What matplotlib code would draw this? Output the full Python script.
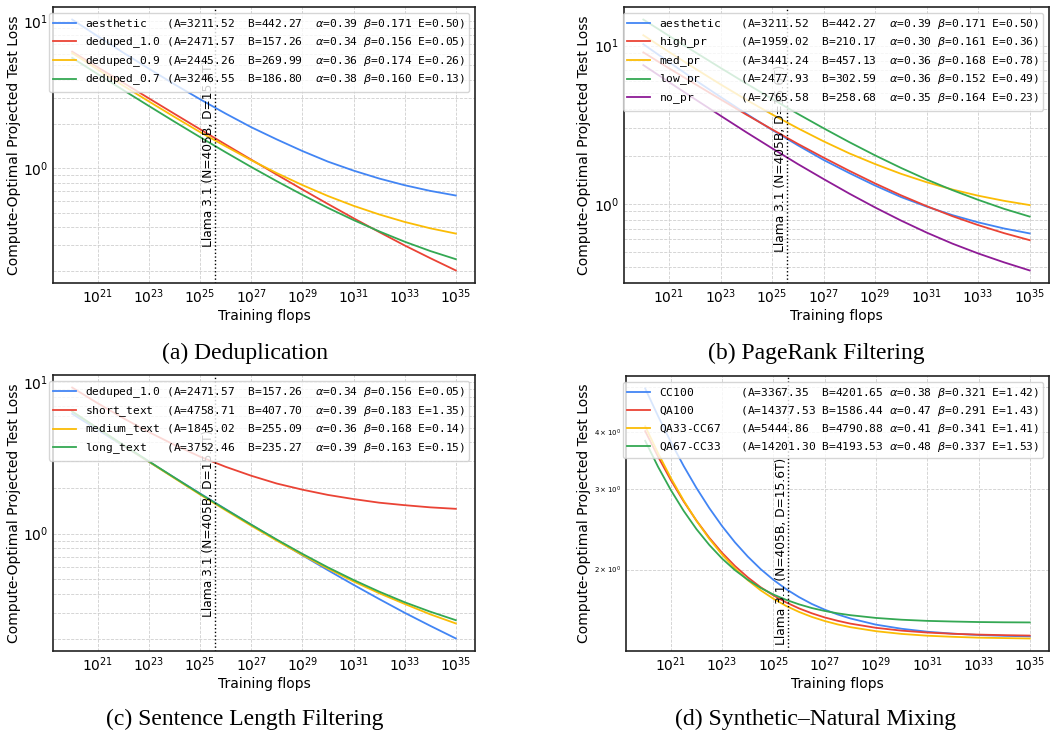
import matplotlib
matplotlib.use("Agg")
import matplotlib.pyplot as plt
from matplotlib.ticker import NullLocator, FixedLocator

# ---------------- data ----------------
flops_exp = [20, 21, 22, 23, 24, 25, 26, 27, 28, 29, 30, 31, 32, 33, 34, 35]
flops_exp_d = [20, 20.5, 21, 21.5, 22, 22.5, 23, 23.5, 24, 24.5, 25, 25.5,
               26, 26.5, 27, 27.5, 28, 29, 30, 31, 32, 33, 34, 35]
llama_flops_exp = 25.58
xtick_exps = [21, 23, 25, 27, 29, 31, 33, 35]

# (a) Deduplication
a_names = ["aesthetic", "deduped_1.0", "deduped_0.9", "deduped_0.7"]
a_A = [3211.52, 2471.57, 2445.26, 3246.55]
a_B = [442.27, 157.26, 269.99, 186.80]
a_alpha = [0.39, 0.34, 0.36, 0.38]
a_beta = [0.171, 0.156, 0.174, 0.160]
a_E = [0.50, 0.05, 0.26, 0.13]
aesthetic = [10.2, 7.86, 6.08, 4.74, 3.71, 2.94, 2.35, 1.90, 1.57, 1.31, 1.11, 0.965, 0.853, 0.768, 0.703, 0.654]
deduped_10 = [6.18, 4.84, 3.80, 2.98, 2.34, 1.84, 1.45, 1.145, 0.906, 0.719, 0.573, 0.459, 0.370, 0.300, 0.246, 0.203]
deduped_09 = [6.05, 4.68, 3.63, 2.84, 2.23, 1.76, 1.41, 1.135, 0.928, 0.770, 0.649, 0.557, 0.487, 0.433, 0.392, 0.361]
deduped_07 = [5.61, 4.35, 3.39, 2.645, 2.07, 1.627, 1.285, 1.021, 0.818, 0.661, 0.539, 0.446, 0.374, 0.318, 0.275, 0.242]

# (b) PageRank Filtering
b_names = ["aesthetic", "high_pr", "med_pr", "low_pr", "no_pr"]
b_A = [3211.52, 1959.02, 3441.24, 2477.93, 2765.58]
b_B = [442.27, 210.17, 457.13, 302.59, 258.68]
b_alpha = [0.39, 0.30, 0.36, 0.36, 0.35]
b_beta = [0.171, 0.161, 0.168, 0.152, 0.164]
b_E = [0.50, 0.36, 0.78, 0.49, 0.23]
high_pr = [9.06, 7.19, 5.73, 4.58, 3.67, 2.96, 2.40, 1.965, 1.622, 1.351, 1.138, 0.972, 0.840, 0.738, 0.657, 0.593]
med_pr = [11.62, 9.11, 7.18, 5.69, 4.55, 3.68, 3.01, 2.49, 2.09, 1.79, 1.555, 1.375, 1.237, 1.131, 1.05, 0.987]
low_pr = [14.59, 11.51, 9.11, 7.23, 5.76, 4.61, 3.71, 3.01, 2.46, 2.03, 1.694, 1.431, 1.226, 1.065, 0.935, 0.835]
no_pr = [7.53, 5.88, 4.60, 3.61, 2.84, 2.25, 1.79, 1.44, 1.165, 0.953, 0.789, 0.662, 0.564, 0.489, 0.430, 0.382]

# (c) Sentence Length Filtering
c_names = ["deduped_1.0", "short_text", "medium_text", "long_text"]
c_A = [2471.57, 4758.71, 1845.02, 3752.46]
c_B = [157.26, 407.70, 255.09, 235.27]
c_alpha = [0.34, 0.39, 0.36, 0.39]
c_beta = [0.156, 0.183, 0.168, 0.163]
c_E = [0.05, 1.35, 0.14, 0.15]
short_text = [9.21, 7.25, 5.78, 4.68, 3.85, 3.22, 2.76, 2.41, 2.14, 1.95, 1.80, 1.69, 1.60, 1.54, 1.49, 1.457]
medium_text = [6.40, 4.95, 3.83, 2.98, 2.32, 1.81, 1.425, 1.127, 0.898, 0.722, 0.587, 0.483, 0.404, 0.343, 0.293, 0.255]
long_text = [6.40, 4.96, 3.85, 3.00, 2.34, 1.83, 1.445, 1.145, 0.913, 0.735, 0.598, 0.494, 0.414, 0.352, 0.305, 0.268]

# (d) Synthetic-Natural Mixing
d_names = ["CC100", "QA100", "QA33-CC67", "QA67-CC33"]
d_A = [3367.35, 14377.53, 5444.86, 14201.30]
d_B = [4201.65, 1586.44, 4790.88, 4193.53]
d_alpha = [0.38, 0.47, 0.41, 0.48]
d_beta = [0.321, 0.291, 0.341, 0.337]
d_E = [1.42, 1.43, 1.41, 1.53]
cc100 = [4.97, 4.326, 3.798, 3.366, 3.013, 2.724, 2.487, 2.293, 2.135, 2.005, 1.899, 1.812,
         1.741, 1.682, 1.635, 1.596, 1.564, 1.516, 1.485, 1.463, 1.449, 1.439, 1.433, 1.429]
qa100 = [4.01, 3.528, 3.135, 2.817, 2.557, 2.346, 2.175, 2.036, 1.923, 1.830, 1.756, 1.695,
         1.645, 1.605, 1.572, 1.546, 1.524, 1.492, 1.471, 1.457, 1.448, 1.442, 1.438, 1.435]
qa33_cc67 = [4.11, 3.589, 3.169, 2.829, 2.555, 2.334, 2.156, 2.012, 1.896, 1.802, 1.727, 1.665,
             1.616, 1.576, 1.544, 1.518, 1.497, 1.467, 1.447, 1.434, 1.426, 1.420, 1.417, 1.414]
qa67_cc33 = [3.82, 3.353, 2.982, 2.686, 2.450, 2.263, 2.113, 1.994, 1.900, 1.824, 1.764, 1.717,
             1.679, 1.648, 1.624, 1.605, 1.590, 1.568, 1.554, 1.545, 1.540, 1.536, 1.534, 1.533]

captions = ["(a) Deduplication", "(b) PageRank Filtering",
            "(c) Sentence Length Filtering", "(d) Synthetic\u2013Natural Mixing"]

# ---------------- styling ----------------
BLUE, RED, YELLOW, GREEN, PURPLE = "#4285F4", "#EA4335", "#FBBC05", "#34A853", "#8E1B96"

plt.rcParams["font.family"] = ["DejaVu Sans"]
plt.rcParams["mathtext.fontset"] = "dejavusans"

fig = plt.figure(figsize=(10.51, 7.31), dpi=100)
W, H = 1051.0, 731.0


def make_axes(left, top, right, bottom):
    return fig.add_axes([left / W, 1 - bottom / H, (right - left) / W, (bottom - top) / H])


def label(name, A, B, a, b, e):
    a_s = f"{A:.2f}"
    b_s = f"{B:.2f}"
    return (f"{name:<11} (A={a_s:<8} B={b_s:<7} "
            f"$\\alpha$={a:.2f} $\\beta$={b:.3f} E={e:.2f})")


def setup(ax, xs, series, colors, names, A, B, al, be, E, text_y, ylab_x, minor_labels=False):
    fx = [10.0 ** v for v in xs]
    for ys, col, n, a_, b_, al_, be_, e_ in zip(series, colors, names, A, B, al, be, E):
        ax.plot(fx, ys, color=col, lw=1.3, label=label(n, a_, b_, al_, be_, e_))
    ax.set_xscale("log")
    ax.set_yscale("log")
    ax.xaxis.set_major_locator(FixedLocator([10.0 ** v for v in xtick_exps]))
    ax.xaxis.set_minor_locator(NullLocator())
    xl = 10.0 ** llama_flops_exp
    ax.axvline(xl, color="black", ls=":", lw=1.0)
    ax.text(xl, text_y, "Llama 3.1 (N=405B, D=15.6T)", rotation=90, ha="right",
            va="bottom", fontsize=8.8, transform=ax.get_xaxis_transform())
    ax.grid(True, which="both", ls="--", lw=0.6, color="#cfcfcf")
    ax.set_axisbelow(True)
    ax.tick_params(axis="both", which="both", length=0)
    ax.tick_params(axis="both", which="major", labelsize=10)
    ax.set_xlabel("Training flops", fontsize=10, labelpad=2)
    ax.set_ylabel("Compute-Optimal Projected Test Loss", fontsize=10)
    ax.yaxis.set_label_coords(ylab_x, 0.5)
    if minor_labels:
        ax.tick_params(axis="y", which="minor", labelsize=5)
    for s in ax.spines.values():
        s.set_color("#222222")
        s.set_linewidth(1.2)
    ax.legend(loc="upper right", prop={"family": "DejaVu Sans Mono", "size": 8.1},
              borderaxespad=0.5, handlelength=2.0, framealpha=0.8, labelspacing=0.35)
    return ax


ax_a = make_axes(53, 7, 475, 283)
setup(ax_a, flops_exp, [aesthetic, deduped_10, deduped_09, deduped_07],
      [BLUE, RED, YELLOW, GREEN], a_names, a_A, a_B, a_alpha, a_beta, a_E, 0.13, -0.076)

ax_b = make_axes(624, 7, 1049, 283)
setup(ax_b, flops_exp, [aesthetic, high_pr, med_pr, low_pr, no_pr],
      [BLUE, RED, YELLOW, GREEN, PURPLE], b_names, b_A, b_B, b_alpha, b_beta, b_E, 0.112, -0.078)

ax_c = make_axes(53, 375, 475, 651)
setup(ax_c, flops_exp, [deduped_10, short_text, medium_text, long_text],
      [BLUE, RED, YELLOW, GREEN], c_names, c_A, c_B, c_alpha, c_beta, c_E, 0.123, -0.076)

ax_d = make_axes(626, 376, 1049, 651)
setup(ax_d, flops_exp_d, [cc100, qa100, qa33_cc67, qa67_cc33],
      [BLUE, RED, YELLOW, GREEN], d_names, d_A, d_B, d_alpha, d_beta, d_E, 0.022, -0.083,
      minor_labels=True)

cap_font = {"family": ["Liberation Serif", "DejaVu Serif"], "size": 17}
fig.text(245 / W, 1 - 353 / H, captions[0], ha="center", va="center", fontdict=cap_font)
fig.text(816 / W, 1 - 353 / H, captions[1], ha="center", va="center", fontdict=cap_font)
fig.text(245 / W, 1 - 719 / H, captions[2], ha="center", va="center", fontdict=cap_font)
fig.text(816 / W, 1 - 719 / H, captions[3], ha="center", va="center", fontdict=cap_font)

fig.savefig("out.png", dpi=100, facecolor="white")
